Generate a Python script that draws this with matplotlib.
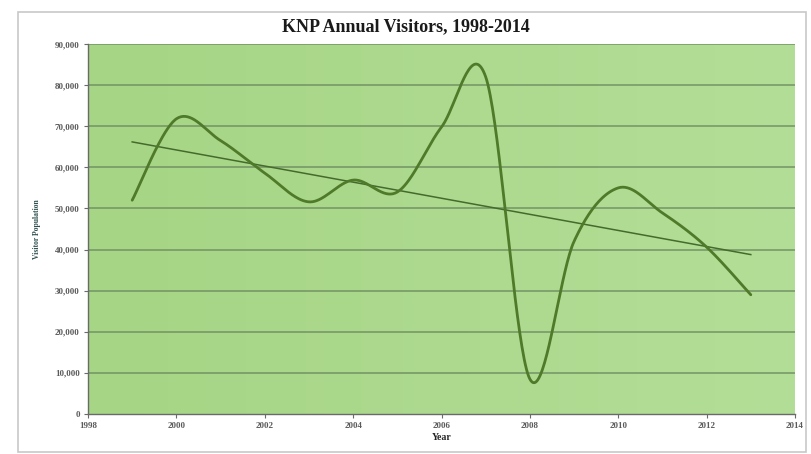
import numpy as np
import matplotlib.pyplot as plt
from matplotlib.ticker import FuncFormatter, MultipleLocator

years = [1999, 2000, 2001, 2002, 2003, 2004, 2005, 2006, 2007, 2008, 2009, 2010, 2011, 2012, 2013]
visitors = [52000, 71800, 66500, 58600, 51600, 56900, 54000, 69800, 82000, 8500,
            42000, 55000, 48900, 40600, 29000]

title = "KNP Annual Visitors, 1998-2014"


def smooth(x, y, n=40):
    # Catmull-Rom style smoothing like a spreadsheet "smoothed line"
    x = np.asarray(x, float)
    y = np.asarray(y, float)
    px = np.concatenate([[x[0]], x, [x[-1]]])
    py = np.concatenate([[y[0]], y, [y[-1]]])
    xs, ys = [], []
    t = np.linspace(0, 1, n)
    for i in range(1, len(px) - 2):
        p0 = np.array([px[i], py[i]])
        p3 = np.array([px[i + 1], py[i + 1]])
        c1 = p0 + (np.array([px[i + 1], py[i + 1]]) - np.array([px[i - 1], py[i - 1]])) / 6
        c2 = p3 - (np.array([px[i + 2], py[i + 2]]) - np.array([px[i], py[i]])) / 6
        b = ((1 - t) ** 3)[:, None] * p0 + (3 * (1 - t) ** 2 * t)[:, None] * c1 \
            + (3 * (1 - t) * t ** 2)[:, None] * c2 + (t ** 3)[:, None] * p3
        xs.extend(b[:, 0])
        ys.extend(b[:, 1])
    return np.array(xs), np.array(ys)


fig = plt.figure(figsize=(8.12, 4.54), dpi=100)
fig.patch.set_facecolor("white")

# outer chart frame
frame = plt.Rectangle((0.022, 0.004), 0.970, 0.97, transform=fig.transFigure,
                      fill=False, ec="#c8c8c8", lw=1.2)
fig.add_artist(frame)

ax = fig.add_axes([88 / 812, 1 - 414 / 454, (795 - 88) / 812, (414 - 44) / 454])

# light green plot area with a faint left-to-right lightening
grad = np.linspace(0, 1, 256)[None, :]
cmap = plt.matplotlib.colors.LinearSegmentedColormap.from_list("g", ["#a6d585", "#b3de97"])
ax.imshow(grad, extent=[1998, 2014, 0, 90000], aspect="auto", cmap=cmap, zorder=0)

ax.set_xlim(1998, 2014)
ax.set_ylim(0, 90000)
ax.xaxis.set_major_locator(MultipleLocator(2))
ax.yaxis.set_major_locator(MultipleLocator(10000))
ax.yaxis.set_major_formatter(FuncFormatter(lambda v, p: f"{int(v):,}"))

for yv in range(10000, 90001, 10000):
    ax.axhline(yv, color="#6a875e", lw=1.1, alpha=0.85, zorder=1)

sx, sy = smooth(years, visitors)
ax.plot(sx, sy, color="#4f7a2a", lw=2.0, zorder=3, solid_capstyle="round")

# linear trend
k, b0 = np.polyfit(years, visitors, 1)
tx = np.array([years[0], years[-1]])
ax.plot(tx, k * tx + b0, color="#456b2c", lw=1.1, zorder=2)

for s in ["top", "right"]:
    ax.spines[s].set_visible(False)
for s in ["left", "bottom"]:
    ax.spines[s].set_color("#6a6a6a")
    ax.spines[s].set_linewidth(1.0)

ax.tick_params(axis="both", length=3, color="#6a6a6a", labelsize=6.5,
               labelcolor="#5a5a5a", pad=3)
for lab in ax.get_xticklabels() + ax.get_yticklabels():
    lab.set_fontfamily("Liberation Serif")
    lab.set_fontweight("bold")

ax.set_xlabel("Year", fontsize=7, fontweight="bold", family="Liberation Serif",
              color="#222222", labelpad=2)
ax.set_ylabel("Visitor Population", fontsize=5.5, fontweight="bold",
              family="Liberation Serif", color="#2f4f4f", labelpad=10)

fig.text(0.5, 1 - 27 / 454, title, ha="center", va="center", fontsize=13,
         fontweight="bold", family="Liberation Serif", color="#1a1a1a")

fig.savefig("out.png", dpi=100)
